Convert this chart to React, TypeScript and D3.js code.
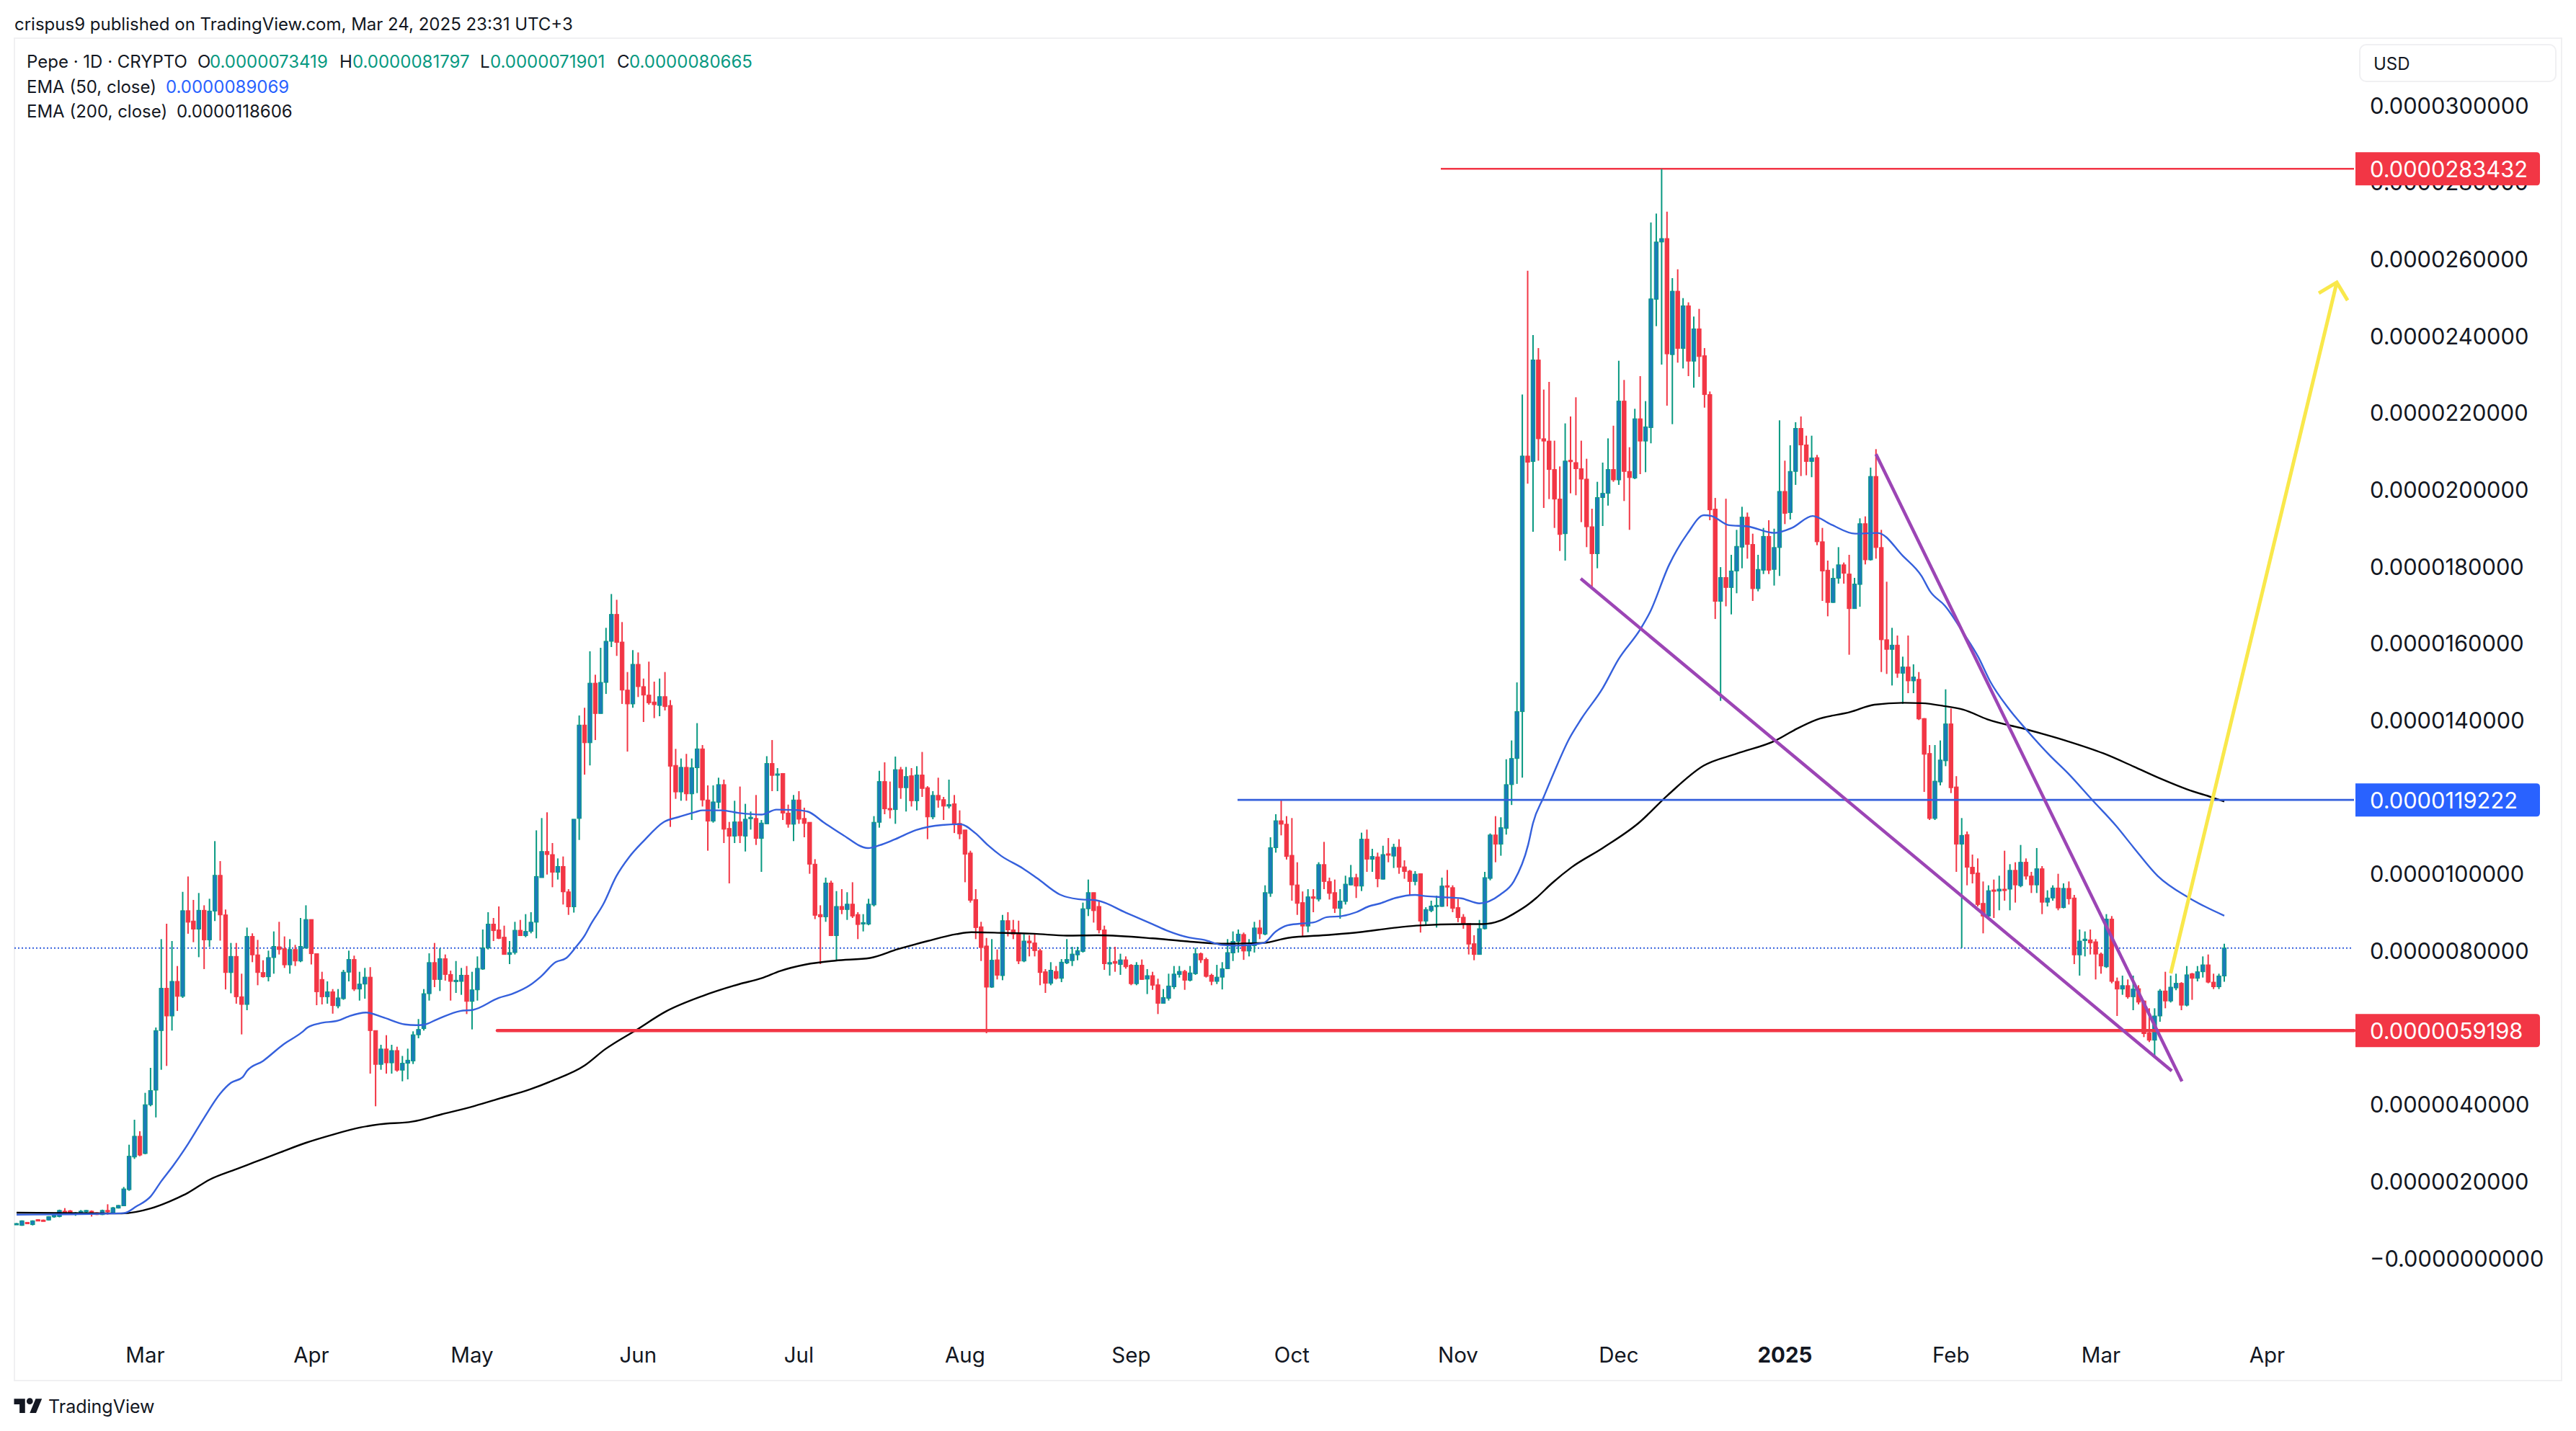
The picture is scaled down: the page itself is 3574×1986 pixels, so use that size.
import * as d3 from 'd3';

// All prices are in millionths of a USD (1 = 0.0000010000)
const firstDay = Date.UTC(2024, 1, 6);
const lastDay = Date.UTC(2025, 2, 24);

// daily candles: open, high, low, close
const candles: number[][] = [
  [.88,.91,.87,.9],[.85,.98,.84,.97],[.93,.93,.9,.9],[.87,.98,.85,.97],[1,1.01,.97,.98],[.99,1,.96,.97],[.99,1.09,.98,1.08],[1.07,1.13,1.05,1.12],
  [1.08,1.26,1.06,1.24],[1.22,1.3,1.17,1.2],[1.23,1.25,1.13,1.15],[1.14,1.2,1.1,1.18],[1.16,1.25,1.13,1.22],[1.2,1.25,1.13,1.24],[1.22,1.24,1.08,1.2],[1.18,1.19,1.12,1.13],
  [1.13,1.26,1.12,1.24],[1.24,1.4,1.13,1.22],[1.17,1.33,1.15,1.31],[1.3,1.38,1.29,1.37],[1.36,1.85,1.35,1.8],[1.78,2.95,1.75,2.65],[2.63,3.6,2.58,3.17],[3.17,3.3,2.65,2.68],
  [2.72,4.3,2.7,3.99],[3.99,4.95,3.95,4.36],[4.37,6,3.66,5.92],[5.92,8.3,4.9,7.02],[7.02,8.7,5,6.3],[6.3,8.25,5.92,7.2],[7.2,7.6,6.43,6.81],[6.81,9.53,6.77,9.04],
  [9.04,9.93,8.44,8.74],[8.77,9.32,8.22,8.56],[8.56,9.5,7.83,9.05],[9.05,9.18,7.52,8.28],[8.28,9.35,8.1,9.03],[9.03,10.85,8.77,9.96],[9.96,10.33,8.26,8.93],[8.93,9.07,6.99,7.43],
  [7.43,8.2,6.89,7.85],[7.85,8.2,6.62,6.8],[6.8,7.4,5.82,6.6],[6.6,8.6,6.45,8.37],[8.37,8.45,7.7,7.89],[7.89,8.28,7.1,7.43],[7.43,7.75,7.3,7.32],[7.32,8,7.2,7.82],
  [7.82,8.5,7.4,8.11],[8.1,8.75,7.9,8.03],[8.05,8.37,7.55,7.63],[7.63,8.3,7.4,8.03],[8.03,8.15,7.6,7.73],[7.73,8.85,7.7,8.11],[8.07,9.18,8.05,8.81],[8.81,8.81,7.64,7.92],
  [7.92,7.92,6.58,6.93],[7.25,7.45,6.6,6.8],[6.8,7.2,6.62,6.93],[6.93,7,6.36,6.57],[6.56,7,6.5,6.77],[6.75,7.5,6.72,7.44],[7.44,8,7.2,7.77],[7.77,7.87,6.95,7],
  [7,7.45,6.7,7.13],[7.13,7.55,6.75,7.31],[7.31,7.57,4.8,5.92],[5.92,5.92,3.95,5.04],[5.04,5.55,4.9,5.44],[5.44,5.8,4.8,5.08],[5.08,5.55,4.8,5.4],[5.4,5.5,4.85,4.89],
  [4.89,5.26,4.6,5.07],[5.07,5.45,4.65,5.15],[5.13,5.9,5.05,5.81],[5.81,6.22,5.72,5.95],[5.97,7,5.92,6.88],[6.88,7.93,6.7,7.69],[7.69,8.2,7.05,7.25],[7.25,8.06,6.95,7.79],
  [7.79,7.9,7.22,7.38],[7.38,7.48,6.7,7.2],[7.2,7.73,6.9,7.23],[7.2,7.55,6.85,7.36],[7.36,7.6,6.35,6.68],[6.68,7.45,5.95,6.98],[6.98,7.85,6.7,7.54],[7.52,8.55,7.5,8.07],
  [8.07,9,8.03,8.69],[8.69,8.85,8.25,8.52],[8.54,9.15,8.3,8.32],[8.35,8.65,7.9,7.9],[7.9,8.25,7.65,7.95],[7.95,8.75,7.9,8.53],[8.53,8.8,8.38,8.39],[8.39,8.95,8.35,8.5],
  [8.5,9,8.45,8.74],[8.74,11.13,8.32,9.93],[9.9,11.45,9.9,10.58],[10.58,11.6,9.98,10.5],[10.5,10.8,9.65,10.04],[10.04,10.4,9.85,10.19],[10.19,10.45,9.2,9.53],[9.53,9.6,8.93,9.14],
  [9.14,11.42,8.99,11.42],[11.44,14.12,10.88,13.87],[13.87,14.32,12.58,13.41],[13.41,15.79,12.82,14.96],[14.96,15.18,13.48,14.17],[14.17,15.88,14.17,14.98],[14.98,16.4,14.68,16.05],[16.05,17.28,15.9,16.75],
  [16.75,17.13,15.67,16.02],[16.03,16.55,14.42,14.78],[14.78,15.25,13.18,14.42],[14.42,15.82,14.32,15.45],[15.45,15.76,14.6,14.87],[14.87,15.08,13.95,14.65],[14.65,15.52,14.4,14.45],[14.47,15,14.05,14.4],
  [14.38,15.08,14.1,14.61],[14.61,15.25,14.25,14.35],[14.38,14.52,11.22,12.8],[12.82,13.25,11.95,12.13],[12.13,13,11.9,12.77],[12.77,13.12,11.9,12.08],[12.08,13,11.4,12.76],[12.76,13.92,12.1,13.25],
  [13.25,13.35,11.75,11.92],[11.92,12.3,10.6,11.37],[11.37,12.3,11.33,11.87],[11.86,12.5,11.7,12.32],[12.32,12.45,10.8,11.16],[11.18,11.35,9.75,10.98],[10.98,11.9,10.8,11.35],[11.35,12.27,10.8,10.99],
  [10.98,11.82,10.58,11.42],[11.45,11.62,11.15,11.47],[11.44,12.05,10.75,10.92],[10.92,11.4,10.05,11.32],[11.3,13.06,11.3,12.87],[12.87,13.48,12.15,12.56],[12.57,12.75,12.15,12.6],[12.61,12.62,11.4,11.58],
  [11.58,11.8,11.2,11.29],[11.29,12.05,10.85,11.92],[11.92,12.15,11.3,11.42],[11.44,11.72,10.95,11.31],[11.34,11.34,10,10.25],[10.25,10.38,8.82,8.92],[8.94,9.18,7.65,8.88],[8.88,9.9,8.75,9.76],
  [9.76,9.82,8.38,8.39],[8.39,9.55,7.75,9.15],[9.15,9.6,8.95,9.07],[9.07,9.52,8.8,9.21],[9.21,9.78,8.85,8.9],[8.94,9,8.3,8.68],[8.7,8.95,8.5,8.73],[8.69,9.35,8.66,9.21],
  [9.19,11.5,9.15,11.34],[11.34,12.68,11.2,12.4],[12.4,12.9,11.55,11.69],[11.7,12.4,11.44,11.68],[11.67,13.05,11.3,12.71],[12.71,12.78,11.95,12.24],[12.24,12.78,11.62,12.53],[12.55,12.75,11.75,11.9],
  [11.9,12.8,11.65,12.57],[12.57,13.17,12,12.22],[12.24,12.28,10.9,11.48],[11.48,12.15,11.42,12.04],[12.04,12.5,11.72,11.92],[11.93,12,11.4,11.76],[11.76,12.45,11.7,11.8],[11.82,12.05,11.06,11.31],
  [11.31,11.65,10.9,11.04],[11.14,11.14,9.78,10.51],[10.54,10.6,9.25,9.31],[9.33,9.6,8.3,8.6],[8.62,8.75,7.73,8.08],[8.12,8.33,5.85,7.05],[7.05,8.3,7.03,7.75],[7.76,8.03,7.25,7.36],
  [7.35,8.93,7.23,8.78],[8.78,9,8.37,8.54],[8.54,8.8,8.3,8.43],[8.46,8.78,7.65,7.73],[7.73,8.43,7.7,8.25],[8.25,8.4,7.85,8.2],[8.2,8.43,7.85,8],[8,8.05,7.1,7.43],
  [7.45,7.52,6.9,7.15],[7.15,7.7,7.1,7.49],[7.46,7.6,7.25,7.28],[7.28,7.78,7.18,7.7],[7.68,8.3,7.65,7.77],[7.74,8.1,7.6,7.91],[7.89,8.1,7.75,8],[7.98,9.25,7.95,9.09],
  [9.09,9.85,8.9,9.51],[9.51,9.51,8.73,9.04],[9.15,9.3,8.45,8.54],[8.54,8.65,7.5,7.66],[7.65,8.1,7.35,7.69],[7.72,8.1,7.45,7.67],[7.64,7.92,7.37,7.76],[7.76,7.85,7.53,7.58],
  [7.62,7.65,7.1,7.14],[7.14,7.7,7.1,7.62],[7.62,7.77,7.24,7.25],[7.26,7.52,6.87,7.35],[7.35,7.45,6.98,7.1],[7.11,7.27,6.35,6.63],[6.63,7,6.63,6.78],[6.76,7.4,6.7,7.08],
  [7.06,7.6,7,7.39],[7.38,7.6,7.3,7.46],[7.46,7.5,6.98,7.23],[7.23,7.6,7.2,7.42],[7.4,8.07,7.37,7.92],[7.92,7.95,7.68,7.76],[7.77,7.82,7.3,7.33],[7.36,7.4,7.1,7.2],
  [7.2,7.63,7.13,7.31],[7.31,7.7,6.99,7.53],[7.53,8.3,7.52,7.95],[7.94,8.5,7.73,8.24],[8.24,8.55,7.95,8.43],[8.42,8.47,7.76,7.99],[7.99,8.3,7.85,8.15],[8.13,8.75,7.95,8.59],
  [8.59,8.8,8.3,8.44],[8.43,9.7,8.4,9.51],[9.49,10.95,9.4,10.68],[10.68,11.55,10.55,11.38],[11.38,11.93,11,11.29],[11.29,11.5,10.37,10.45],[10.48,11.45,9.3,9.71],[9.71,10.3,8.93,9.23],
  [9.25,9.54,8.38,8.64],[8.64,9.6,8.48,9.4],[9.4,9.6,9,9.36],[9.34,10.3,9.28,10.24],[10.24,10.83,9.6,9.8],[9.8,9.9,9.33,9.49],[9.51,9.85,8.98,9.1],[9.1,9.6,8.83,9.29],
  [9.28,9.95,9.2,9.73],[9.71,10.23,9.7,9.9],[9.9,10,9.37,9.68],[9.68,11.07,9.55,10.9],[10.9,11.15,10.05,10.38],[10.38,10.65,10.05,10.45],[10.44,10.55,9.65,9.87],[9.86,10.73,9.85,10.5],
  [10.52,10.93,10.3,10.5],[10.46,10.78,10.15,10.69],[10.69,10.9,10,10.17],[10.18,10.35,9.87,10.06],[10.07,10.1,9.45,9.8],[9.8,10.07,9.7,9.99],[10,10,8.47,8.77],[8.77,9.13,8.65,9.07],
  [9.04,9.3,9,9.16],[9.16,9.43,8.6,9.18],[9.15,9.9,9.14,9.68],[9.69,10.1,9.15,9.67],[9.64,9.7,9,9.1],[9.12,9.35,8.74,8.86],[8.87,8.95,8.57,8.71],[8.71,8.71,7.9,8.17],
  [8.18,8.4,7.75,7.9],[7.9,8.8,7.9,8.57],[8.57,10.05,8.55,9.9],[9.88,11.05,9.83,11.01],[11.01,11.5,10.3,10.77],[10.77,11.47,10.47,11.2],[11.18,12.98,11.02,12.32],[12.32,13.47,11.79,13],
  [13,14.98,12.34,14.22],[14.22,22.47,12.5,20.87],[20.87,25.69,20.15,20.71],[20.73,24.02,18.9,23.37],[23.37,23.68,20.75,21.32],[21.32,22.6,19.52,21.26],[21.26,22.8,19.75,20.52],[20.52,21.27,19,19.75],
  [19.75,20.6,18.4,18.83],[18.85,21.72,18.15,20.74],[20.76,21.9,19.9,20.74],[20.7,22.4,19.85,20.54],[20.54,21.27,19.15,20.27],[20.27,20.8,18.5,19.03],[19.03,19.5,17.4,18.33],[18.33,20.2,17.95,19.79],
  [19.79,20.7,19.05,19.9],[19.9,21.33,19.58,20.52],[20.52,21.66,20.2,20.25],[20.25,23.35,20.12,22.3],[22.3,22.85,19.7,20.47],[20.47,21.1,18.95,20.31],[20.3,22.1,20.27,21.84],[21.84,22.95,20.4,21.26],
  [21.26,22.3,20.45,21.63],[21.61,26.95,21.2,24.96],[24.95,27.18,24.25,26.44],[26.44,28.34,23.25,26.53],[26.53,27.23,22.18,23.53],[23.51,25.5,21.7,25.16],[25.16,25.73,23.3,23.67],[23.67,24.98,23.15,24.78],
  [24.78,24.87,22.95,23.34],[23.34,24.5,22.65,24.18],[24.18,24.7,22.93,23.46],[23.48,23.68,22.13,22.47],[22.47,22.55,19.2,19.47],[19.49,19.78,16.63,17.09],[17.09,17.98,14.5,17.71],[17.71,19.76,16.96,17.45],
  [17.45,18.3,16.75,17.88],[17.88,18.95,17.3,18.52],[18.5,19.55,17.95,19.28],[19.28,19.4,18.2,18.57],[18.57,18.85,17.1,17.42],[17.42,18.3,17.35,17.92],[17.9,19,17.8,18.78],[18.78,19.2,17.8,17.9],
  [17.92,18.98,17.5,18.49],[18.49,21.8,17.75,19.95],[19.95,20.75,19.1,19.38],[19.4,21.15,19.22,20.47],[20.47,21.75,20.12,21.59],[21.59,21.9,20.35,21.16],[21.16,21.4,20.37,20.73],[20.73,21.4,20.32,20.82],
  [20.83,20.9,18.55,18.64],[18.64,19,17.1,17.88],[17.9,18.15,16.7,17.06],[17.06,17.95,17.05,17.69],[17.69,18.5,17.55,18.04],[18.04,18.1,17.55,17.82],[17.8,18.3,15.7,16.9],[16.9,17.7,16.9,17.54],
  [17.53,19.25,16.95,19.11],[19.11,19.3,18.05,18.17],[18.17,20.57,18.15,20.34],[20.34,21.05,18.2,18.49],[18.49,18.95,15.25,16.09],[16.09,17.6,15.2,15.84],[15.84,16.4,14.9,15.95],[15.95,16.2,15.1,15.22],
  [15.22,15.65,14.42,15.38],[15.38,16.2,14.7,15.02],[15.02,15.45,14.7,15.12],[15.06,15.25,14,14.03],[14.04,14.05,12.13,13.11],[13.13,13.35,11.4,11.44],[11.44,13.35,11.4,12.41],[12.39,13.47,12.3,12.96],
  [12.94,14.8,12.8,13.9],[13.9,14.3,12.1,12.24],[12.26,12.54,10.05,10.77],[10.77,11.45,8.07,11],[11.02,11.1,9.7,10.17],[10.17,10.5,9.75,10],[10.02,10.4,9.15,9.2],[9.23,9.8,8.45,8.9],
  [8.9,9.7,8.85,9.56],[9.58,9.85,8.85,9.56],[9.55,9.95,9.05,9.6],[9.6,10.6,9.3,9.58],[9.6,10.25,9.05,10.09],[10.09,10.3,9.25,9.71],[9.69,10.75,9.65,10.3],[10.3,10.4,9.85,9.94],
  [9.94,10.05,9.5,9.71],[9.71,10.67,9.5,10.13],[10.13,10.2,8.95,9.26],[9.26,9.57,9.15,9.37],[9.37,9.7,9.3,9.63],[9.63,10,9.05,9.11],[9.12,9.75,9.1,9.62],[9.62,9.8,9.2,9.35],
  [9.37,9.45,7.65,7.89],[7.89,8.55,7.35,8.25],[8.26,8.5,7.85,8.3],[8.28,8.55,7.9,8.2],[8.23,8.3,7.25,7.91],[7.91,7.95,7.4,7.6],[7.58,8.95,7.55,8.82],[8.82,8.9,7.15,7.2],
  [7.2,7.3,6.3,7],[7,7.35,6.85,7.09],[7.09,7.25,6.75,6.8],[6.8,7.35,6.45,7],[7.01,7.1,6.6,6.66],[6.69,6.7,5.75,5.84],[5.86,6.5,5.62,5.67],[5.67,6.5,5.25,6.3],
  [6.3,7,6.15,6.95],[6.95,7.45,6.5,6.69],[6.69,7.35,6.65,7.05],[7.03,7.4,6.97,7.15],[7.15,7.18,6.45,6.58],[6.58,7.6,6.55,7.37],[7.4,7.42,6.72,7.28],[7.28,7.6,7.2,7.45],
  [7.45,7.85,7.3,7.63],[7.63,7.9,7.15,7.18],[7.18,7.4,7,7.06],[7.06,7.4,7,7.34],[7.34,8.18,7.19,8.07],
];

// EMA readings: day number since firstDay, then the value on that day
const ema50Days = [0,10,20,22.3,25,27,29.2,32,35,38,40,42.2,43,46,49.8,53.2,54.3,56.6,60,62,65.2,68.3,72.5,74.5,75.9,78.6,82.8,85.2,90,92.4,95.8,97.8,100.6,102.6,104.3,106.1,107.1,109.5,111.9,114.3,117,120.8,123.6,126.7,128,131.5,134.9,139,141.8,145.2,147.6,150.7,154.1,158.9,161,163.8,167.9,172.7,176.1,178.9,181.3,183.7,187.8,190.5,194.7,198.1,201.5,207,212,214.9,218.8,221.6,224.9,227.7,232.7,235,237.2,239.4,242.2,244.5,247.3,250,252.3,254.5,257.3,261,262.9,266.3,269.6,273,276.9,279.4,282.1,283,285,286.8,289.7,292,296,298.9,303.1,304.8,308.4,311.8,314.9,316.3,319.6,323,328,331.3,335.2,338.6,343.1,347.3,352.1,355.5,357.1,359.9,363.3,366.1,368.3,371.7,375,379.5,382.8,387.3,391.8,395.1,399.6,405.2,408.5,412];
const ema50Values = [1.13,1.14,1.17,1.34,1.6,2,2.4,2.97,3.65,4.28,4.56,4.71,4.87,5.13,5.56,5.87,6,6.11,6.18,6.29,6.39,6.27,6.08,6.06,6.07,6.22,6.43,6.46,6.77,6.87,7.1,7.32,7.7,7.81,8.08,8.41,8.67,9.21,9.93,10.43,10.85,11.35,11.48,11.61,11.65,11.65,11.58,11.54,11.67,11.66,11.62,11.33,11.02,10.67,10.74,10.89,11.14,11.27,11.29,11.06,10.74,10.47,10.14,9.88,9.46,9.34,9.31,8.99,8.69,8.51,8.34,8.28,8.15,8.13,8.2,8.5,8.66,8.7,8.74,8.87,8.9,9,9.15,9.23,9.37,9.45,9.42,9.39,9.36,9.23,9.46,9.8,10.76,11.32,12,12.6,13.5,14.03,14.83,15.57,16.38,16.8,18.04,18.85,19.33,19.31,19.07,19.04,18.87,19,19.31,19.09,18.85,18.87,18.26,17.75,17.35,16.97,16.27,15.64,15.01,14.31,13.76,13.07,12.62,11.93,11.25,10.68,9.94,9.39,9.14,8.91];

const ema200Days = [0,19.6,25,28.5,32,36,40.9,44.3,49,54,58.7,64.2,67.7,73.8,79.3,85.5,90.3,95.8,99.9,106,109.8,115.7,121.2,128,134.9,139,142.5,147.3,152.8,159.3,164.5,170,175.4,178.2,184.4,189.9,196,201.5,212,217.7,224.9,232.7,237.2,245,250.6,256.8,261.2,270.2,273.5,276.9,279.4,282.1,283.6,286.5,290.2,296,302.7,308.1,314.8,321.1,328.3,332.3,335.9,342.2,346.7,352.1,355.5,359.9,363.3,367.8,375,382.3,389.5,395.1,400.2,405.2,409.7,412];
const ema200Values = [1.18,1.16,1.29,1.47,1.7,2.04,2.31,2.49,2.74,3,3.2,3.4,3.48,3.55,3.74,3.96,4.16,4.39,4.61,5.01,5.43,5.94,6.42,6.82,7.13,7.28,7.47,7.64,7.74,7.81,8.04,8.25,8.43,8.48,8.46,8.44,8.39,8.4,8.32,8.25,8.18,8.2,8.33,8.41,8.48,8.59,8.65,8.69,8.69,8.78,8.96,9.2,9.37,9.75,10.17,10.67,11.32,12.04,12.81,13.13,13.47,13.78,14.01,14.21,14.4,14.45,14.44,14.36,14.27,14.02,13.76,13.47,13.13,12.79,12.47,12.19,11.99,11.88];

// 12 and 6 sit fully behind the level tags in the reference
const priceTicks = [30,28,26,24,22,20,18,16,14,10,8,4,2,0];
const highLevel = 28.3432;
const midLevel = 11.9222;
const lowLevel = 5.9198;
const lastClose = 8.0665;

// drawn trend lines: [day number, price]
const wedgeLower = [[291.9,17.68],[402.2,4.87]];
const wedgeUpper = [[347,20.92],[404.1,4.6]];
const arrowLine = [[402,7.41],[433,25.39]];

const legendOhlc = [
  { key: 'O', value: '0.0000073419', keyX: 274, valueX: 291 },
  { key: 'H', value: '0.0000081797', keyX: 471, valueX: 489 },
  { key: 'L', value: '0.0000071901', keyX: 666, valueX: 680 },
  { key: 'C', value: '0.0000080665', keyX: 856, valueX: 873 },
];

const TEXT = '#131722';
const UP_BODY = '#1a7cb9';
const UP_WICK = '#089981';
const DOWN = '#f23645';
const BLUE = '#3560dc';
const PURPLE = '#9c45b5';
const YELLOW = '#f9e84b';
const BORDER = '#f0f0f2';
const FONT = 'Inter, "Noto Sans", sans-serif';

const DAY = 86400000;
const dayDate = (d: number) => new Date(firstDay + d * DAY);

const x = d3.scaleUtc().domain([new Date(firstDay), new Date(lastDay)]).range([23, 3086]);
const y = d3.scaleLinear().domain([0, 30]).range([1746, 146]);

const px = (d: number) => x(dayDate(d));
const months = d3.utcMonth.range(new Date(Date.UTC(2024, 2, 1)), new Date(Date.UTC(2025, 3, 2)));

const emaPath = (days: number[], values: number[]) =>
  d3.line<number>()
    .x(d => px(d))
    .y((_, i) => y(values[i]))
    .curve(d3.curveMonotoneX)(days) || '';

const segment = (pts: number[][]) =>
  d3.line<number[]>().x(p => px(p[0])).y(p => y(p[1]))(pts) || '';

function priceLabel(v: number) {
  return v === 0 ? '\u22120.0000000000' : (v / 1e6).toFixed(10);
}

// axis tag with rounded right corners only
function tagPath(cy: number) {
  const l = 3268, r = 3524, h = 23, c = 5;
  return `M${l},${cy - h}H${r - c}Q${r},${cy - h} ${r},${cy - h + c}V${cy + h - c}Q${r},${cy + h} ${r - c},${cy + h}H${l}Z`;
}

const tags = [
  { value: highLevel, fill: DOWN, text: '0.0000283432' },
  { value: midLevel, fill: '#2962ff', text: '0.0000119222' },
  { value: lowLevel, fill: DOWN, text: '0.0000059198' },
];

export default function App() {
  return (
    <svg
      width={3574}
      height={1986}
      style={{ position: 'fixed', left: 0, top: 0, display: 'block', background: '#fff', fontFamily: FONT }}
    >
      <text x={20} y={33} dominantBaseline="central" fontSize={24} fill={TEXT}>
        crispus9 published on TradingView.com, Mar 24, 2025 23:31 UTC+3
      </text>

      <rect x={20} y={53} width={3534} height={1863} fill="#fff" stroke={BORDER} strokeWidth={2} />

      {/* horizontal levels, under the candles */}
      <line x1={20} x2={3262} y1={y(lastClose)} y2={y(lastClose)} stroke={BLUE} strokeWidth={2} strokeDasharray="2 3" />
      <line x1={1999} x2={3266} y1={y(highLevel)} y2={y(highLevel)} stroke={DOWN} strokeWidth={2.5} />

      {/* candles */}
      <g>
        {candles.map(([o, h, l, c], i) => {
          const up = c >= o;
          const cx = px(i);
          const top = y(Math.max(o, c));
          const bottom = y(Math.min(o, c));
          return (
            <g key={i}>
              <line x1={cx} x2={cx} y1={y(h)} y2={y(l)} stroke={up ? UP_WICK : DOWN} strokeWidth={2} />
              <rect
                x={cx - 2.7}
                y={top}
                width={5.4}
                height={Math.max(bottom - top, 2)}
                fill={up ? UP_BODY : DOWN}
                stroke={up ? UP_WICK : DOWN}
                strokeWidth={1}
              />
            </g>
          );
        })}
      </g>

      <path d={emaPath(ema200Days, ema200Values)} fill="none" stroke="#000" strokeWidth={2.4} />
      <path d={emaPath(ema50Days, ema50Values)} fill="none" stroke={BLUE} strokeWidth={2.4} />

      <line x1={1717} x2={3266} y1={y(midLevel)} y2={y(midLevel)} stroke={BLUE} strokeWidth={2.6} />
      <line x1={690} x2={3266} y1={y(lowLevel)} y2={y(lowLevel)} stroke={DOWN} strokeWidth={4.5} strokeLinecap="round" />

      <path d={segment(wedgeLower)} fill="none" stroke={PURPLE} strokeWidth={4.5} />
      <path d={segment(wedgeUpper)} fill="none" stroke={PURPLE} strokeWidth={4.5} />

      <path d={segment(arrowLine)} fill="none" stroke={YELLOW} strokeWidth={5} />
      <path
        d={`M${px(arrowLine[1][0]) - 25},${y(arrowLine[1][1]) + 15}L${px(arrowLine[1][0])},${y(arrowLine[1][1])}L${px(arrowLine[1][0]) + 15},${y(arrowLine[1][1]) + 25}`}
        fill="none"
        stroke={YELLOW}
        strokeWidth={5}
      />

      {/* legend */}
      <g fontSize={24} fill={TEXT}>
        <text x={37} y={85} dominantBaseline="central">Pepe · 1D · CRYPTO</text>
        {legendOhlc.map(d => (
          <g key={d.key}>
            <text x={d.keyX} y={85} dominantBaseline="central">{d.key}</text>
            <text x={d.valueX} y={85} dominantBaseline="central" fill={UP_WICK}>{d.value}</text>
          </g>
        ))}
        <text x={37} y={120} dominantBaseline="central">EMA (50, close)</text>
        <text x={230} y={120} dominantBaseline="central" fill="#2962ff">0.0000089069</text>
        <text x={37} y={154} dominantBaseline="central">EMA (200, close)</text>
        <text x={245} y={154} dominantBaseline="central">0.0000118606</text>
      </g>

      {/* price scale */}
      <rect x={3274} y={62} width={272} height={51} rx={9} fill="#fff" stroke={BORDER} strokeWidth={2} />
      <text x={3293} y={88} dominantBaseline="central" fontSize={24} fill={TEXT}>USD</text>
      <g fontSize={30.8} fill={TEXT}>
        {priceTicks.map(t => (
          <text key={t} x={3288} y={y(t)} dominantBaseline="central">{priceLabel(t)}</text>
        ))}
      </g>
      {tags.map(t => (
        <g key={t.text}>
          <path d={tagPath(y(t.value))} fill={t.fill} />
          <text x={3288} y={y(t.value)} dominantBaseline="central" fontSize={30.8} fill="#fff">{t.text}</text>
        </g>
      ))}

      {/* time scale */}
      <g fontSize={29.5} fill={TEXT} textAnchor="middle">
        {months.map(m => {
          const isYear = m.getUTCMonth() === 0;
          return (
            <text
              key={m.getTime()}
              x={x(m)}
              y={1880}
              dominantBaseline="central"
              fontWeight={isYear ? 700 : 400}
            >
              {isYear ? d3.utcFormat('%Y')(m) : d3.utcFormat('%b')(m)}
            </text>
          );
        })}
      </g>

      {/* footer logo */}
      <g transform="translate(19.5,1937) scale(1.09)" fill={TEXT}>
        <path d="M14 22H7V11H0V4h14v18zM28 22h-8l7.5-18h8L28 22z" />
        <circle cx={20} cy={7} r={4} />
      </g>
      <text x={67} y={1952} dominantBaseline="central" fontSize={25} fontWeight={400} fill={TEXT}>TradingView</text>
    </svg>
  );
}
